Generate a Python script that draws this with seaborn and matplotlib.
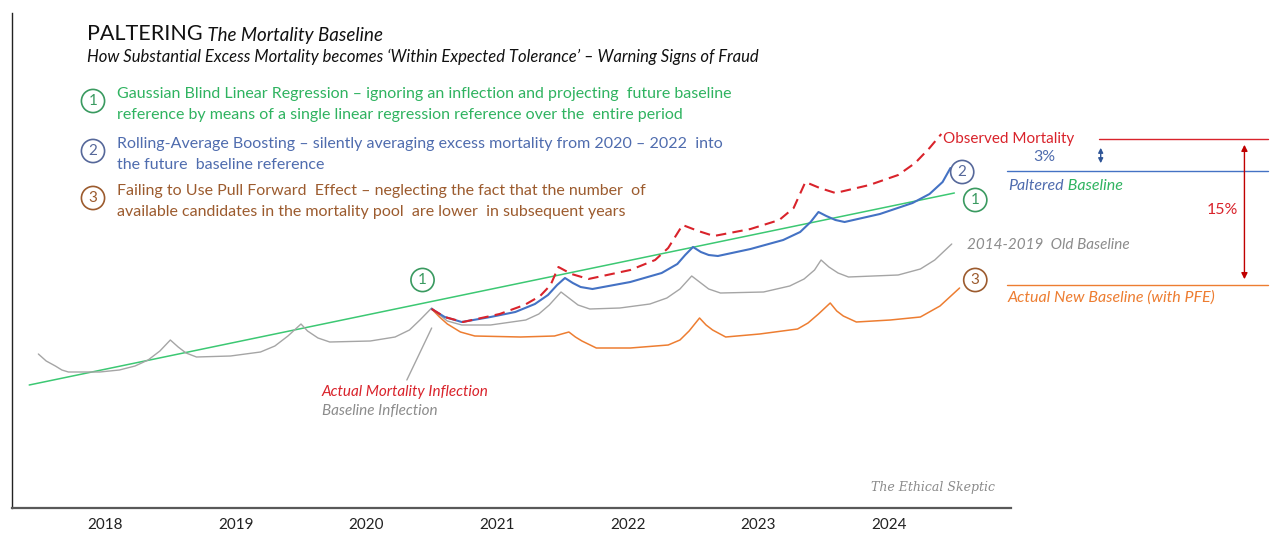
import numpy as np
import pandas as pd
import matplotlib
matplotlib.use('Agg')
import matplotlib.pyplot as plt
import seaborn as sns

# Curve values (decimal year, mortality index; new baseline level = 100)
old_base_t = [2017.99, 2018.05, 2018.12, 2018.17, 2018.22, 2018.46, 2018.61, 2018.73, 2018.83, 2018.92,
              2019.00, 2019.06, 2019.12, 2019.20, 2019.46, 2019.69, 2019.80, 2019.90, 2020.00, 2020.05,
              2020.13, 2020.22, 2020.53, 2020.72, 2020.83, 2020.91, 2021.00, 2021.06, 2021.12, 2021.23,
              2021.45, 2021.72, 2021.82, 2021.90, 2021.99, 2022.05, 2022.12, 2022.21, 2022.44, 2022.67,
              2022.80, 2022.90, 2022.99, 2023.05, 2023.12, 2023.21, 2023.54, 2023.74, 2023.85, 2023.93,
              2023.98, 2024.04, 2024.11, 2024.19, 2024.57, 2024.74, 2024.85, 2024.98]
old_base_v = [93.1, 92.4, 91.9, 91.5, 91.3, 91.3, 91.5, 91.9, 92.5, 93.4,
              94.5, 93.8, 93.2, 92.8, 92.9, 93.3, 93.9, 94.9, 96.1, 95.4,
              94.7, 94.3, 94.4, 94.8, 95.5, 96.5, 97.7, 97.0, 96.4, 96.0,
              96.0, 96.5, 97.1, 98.0, 99.3, 98.7, 98.0, 97.6, 97.7, 98.1,
              98.7, 99.6, 100.9, 100.3, 99.6, 99.2, 99.3, 99.9, 100.6, 101.5,
              102.5, 101.8, 101.2, 100.8, 101.0, 101.6, 102.5, 104.1]

paltered_t = [2021.00, 2021.10, 2021.23, 2021.45, 2021.64, 2021.79, 2021.89, 2021.96, 2022.02, 2022.08,
              2022.14, 2022.23, 2022.52, 2022.76, 2022.88, 2022.94, 2023.00, 2023.06, 2023.12, 2023.19,
              2023.44, 2023.69, 2023.82, 2023.90, 2023.96, 2024.02, 2024.09, 2024.16, 2024.43, 2024.68,
              2024.81, 2024.91, 2024.97]
paltered_v = [97.6, 96.8, 96.3, 96.8, 97.3, 98.1, 99.0, 100.0, 100.7, 100.2,
              99.8, 99.6, 100.3, 101.2, 102.1, 103.0, 103.8, 103.3, 103.0, 102.9,
              103.6, 104.5, 105.3, 106.3, 107.3, 106.9, 106.5, 106.3, 107.1, 108.2,
              109.1, 110.3, 111.7]

observed_t = [2021.00, 2021.10, 2021.24, 2021.52, 2021.71, 2021.83, 2021.91, 2021.97, 2022.07, 2022.20,
              2022.52, 2022.71, 2022.81, 2022.92, 2023.04, 2023.16, 2023.44, 2023.66, 2023.77, 2023.86,
              2023.97, 2024.09, 2024.35, 2024.57, 2024.70, 2024.81, 2024.90]
observed_v = [97.6, 96.8, 96.3, 97.1, 98.0, 98.9, 100.0, 101.8, 101.1, 100.6,
              101.5, 102.5, 103.7, 106.0, 105.4, 104.9, 105.6, 106.5, 107.7, 110.3,
              109.7, 109.2, 110.0, 111.0, 112.2, 113.7, 115.1]

new_base_t = [2021.00, 2021.06, 2021.12, 2021.22, 2021.33, 2021.68, 2021.94, 2022.05, 2022.10, 2022.15,
              2022.26, 2022.52, 2022.81, 2022.90, 2022.97, 2023.05, 2023.10, 2023.15, 2023.25, 2023.51,
              2023.80, 2023.88, 2023.96, 2024.05, 2024.10, 2024.15, 2024.25, 2024.51, 2024.74, 2024.89,
              2025.04]
new_base_v = [97.6, 96.8, 96.1, 95.3, 94.9, 94.8, 94.9, 95.3, 94.8, 94.4,
              93.7, 93.7, 94.0, 94.5, 95.4, 96.7, 96.0, 95.5, 94.8, 95.1,
              95.6, 96.2, 97.1, 98.2, 97.4, 96.9, 96.3, 96.5, 96.8, 97.9,
              99.7]

regression_t = [2017.92, 2025.00]
regression_v = [90.0, 109.2]

years = [2018, 2019, 2020, 2021, 2022, 2023, 2024]

GREEN = '#3cc873'
GREEN_TXT = '#2fb360'
BLUE = '#4472c4'
BLUE_TXT = '#4f6cae'
ORANGE = '#ed7d31'
BROWN = '#9c5b2e'
GREY = '#a5a5a5'
RED = '#d9232b'

sns.set_theme(style='white')
plt.rcParams['font.family'] = ['Lato', 'DejaVu Sans']

fig = plt.figure(figsize=(12.8, 5.41), dpi=100)
ax = fig.add_axes([12 / 1280, 33 / 541, 1268 / 1280, 495 / 541])

sns.lineplot(x=regression_t, y=regression_v, color=GREEN, lw=1.1, ax=ax, sort=False)
sns.lineplot(x=old_base_t, y=old_base_v, color=GREY, lw=1.0, ax=ax, sort=False)
sns.lineplot(x=new_base_t, y=new_base_v, color=ORANGE, lw=1.1, ax=ax, sort=False)
sns.lineplot(x=paltered_t, y=paltered_v, color=BLUE, lw=1.5, ax=ax, sort=False)
sns.lineplot(x=observed_t, y=observed_v, color=RED, lw=1.5, ax=ax, sort=False,
             linestyle=(0, (5, 3)))

x0 = 2018.5 - 93 / 130.67
ax.set_xlim(x0, x0 + 1268 / 130.67)
ax.set_ylim(77.7, 127.2)
ax.set_xticks([y + 0.5 for y in years])
ax.set_xticklabels([str(y) for y in years], fontsize=11, color='#222222')
ax.tick_params(axis='x', length=0, pad=7.5)
ax.set_yticks([])
ax.set_xlabel('')
ax.set_ylabel('')
for s in ['top', 'right']:
    ax.spines[s].set_visible(False)
ax.spines['left'].set_color('#222222')
ax.spines['left'].set_linewidth(1.0)
ax.spines['bottom'].set_color('#595959')
ax.spines['bottom'].set_linewidth(1.6)
ax.spines['bottom'].set_bounds(x0, 2025.43)

# level lines on the right
obs_lvl = observed_v[-1] - 0.5
pal_lvl = paltered_v[-1] - 0.3
new_lvl = new_base_v[-1] + 0.3
ax.plot([2026.11, 2027.40], [obs_lvl, obs_lvl], color=RED, lw=1.0, clip_on=False)
ax.plot([2025.40, 2027.40], [pal_lvl, pal_lvl], color=BLUE, lw=1.0, clip_on=False)
ax.plot([2025.40, 2027.40], [new_lvl, new_lvl], color=ORANGE, lw=1.0, clip_on=False)
ax.annotate('', xy=(2027.22, obs_lvl - 0.3), xytext=(2027.22, new_lvl + 0.3),
            arrowprops=dict(arrowstyle='<|-|>', color='#c00000', lw=1.0, mutation_scale=9))
ax.annotate('', xy=(2026.12, obs_lvl - 0.6), xytext=(2026.12, pal_lvl + 0.5),
            arrowprops=dict(arrowstyle='<|-|>', color='#2f5597', lw=1.0, mutation_scale=7))

ax.text(2024.91, obs_lvl, 'Observed Mortality', color=RED, fontsize=11, va='center', ha='left')
ax.text(2025.69, 112.8, '3%', color=BLUE_TXT, fontsize=11.5, va='center', ha='center')
pt = ax.text(2025.41, 109.9, 'Paltered', color=BLUE_TXT, fontsize=11.5, style='italic',
             va='center', ha='left')
ax.annotate(' Baseline', xy=(1, 0.5), xycoords=pt, va='center', ha='left', color=GREEN_TXT,
            fontsize=11.5, style='italic')
ax.text(2027.05, 107.5, '15%', color=RED, fontsize=11.5, va='center', ha='center')
ax.text(2025.10, 104.0, '2014-2019  Old Baseline', color='#8c8c8c', fontsize=11, style='italic',
        va='center', ha='left')
ax.text(2025.41, 98.7, 'Actual New Baseline (with PFE)', color=ORANGE, fontsize=11.5, style='italic',
        va='center', ha='left')

# inflection note
ax.plot([2021.0, 2020.81], [95.7, 90.5], color=GREY, lw=1.0)
ax.text(2020.16, 89.3, 'Actual Mortality Inflection', color=RED, fontsize=11, style='italic',
        va='center', ha='left')
ax.text(2020.16, 87.4, 'Baseline Inflection', color='#8c8c8c', fontsize=11, style='italic',
        va='center', ha='left')


def badge(xy, label, color, coords):
    kw = dict(ha='center', va='center', color=color, fontsize=11,
              bbox=dict(boxstyle='circle,pad=0.3', fc='white', ec=color, lw=1.2))
    if coords == 'fig':
        fig.text(xy[0] / 1280, 1 - xy[1] / 541, label, **kw)
    else:
        ax.text(xy[0], xy[1], label, **kw)


badge((2020.93, 100.5), '1', '#3a9a60', 'data')
badge((2025.06, 111.3), '2', '#56689a', 'data')
badge((2025.16, 108.5), '1', '#3a9a60', 'data')
badge((2025.16, 100.5), '3', BROWN, 'data')

# title block
tt = fig.text(87 / 1280, 1 - 40 / 541, 'PALTERING', fontsize=15.5, color='#111111',
              va='baseline', ha='left')
ax.annotate(' The Mortality Baseline', xy=(1, 0), xycoords=tt, va='bottom', ha='left',
            fontsize=13.5, style='italic', color='#111111')
fig.text(87 / 1280, 1 - 57 / 541,
         'How Substantial Excess Mortality becomes \u2018Within Expected Tolerance\u2019 \u2013 Warning Signs of Fraud',
         fontsize=12, style='italic', color='#111111', va='center', ha='left')

notes = [
    ('1', GREEN_TXT, '#3a9a60', 101,
     'Gaussian Blind Linear Regression \u2013 ignoring an inflection and projecting  future baseline',
     'reference by means of a single linear regression reference over the  entire period'),
    ('2', BLUE_TXT, '#56689a', 151,
     'Rolling-Average Boosting \u2013 silently averaging excess mortality from 2020 \u2013 2022  into',
     'the future  baseline reference'),
    ('3', BROWN, BROWN, 198,
     'Failing to Use Pull Forward  Effect \u2013 neglecting the fact that the number  of',
     'available candidates in the mortality pool  are lower  in subsequent years'),
]
for num, tcol, ccol, yc, l1, l2 in notes:
    badge((93, yc), num, ccol, 'fig')
    fig.text(117 / 1280, 1 - (yc - 7) / 541, l1, fontsize=11.5, color=tcol, va='center', ha='left')
    fig.text(117 / 1280, 1 - (yc + 14) / 541, l2, fontsize=11.5, color=tcol, va='center', ha='left')

fig.text(995 / 1280, 1 - 487 / 541, 'The Ethical Skeptic', fontsize=9, style='italic',
         family='DejaVu Serif', color='#8a8a8a', ha='right', va='center')

fig.savefig('out.png', dpi=100)
